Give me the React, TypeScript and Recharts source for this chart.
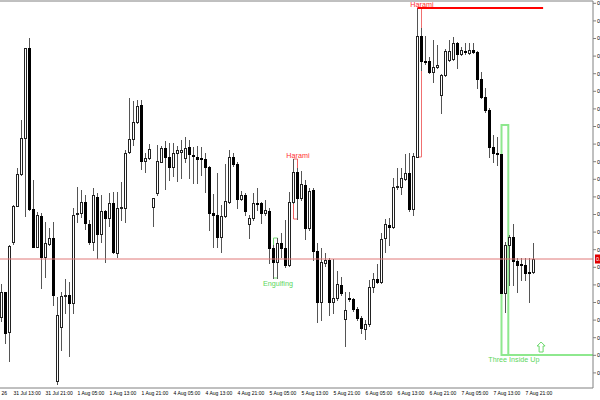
import {
  ComposedChart,
  Bar,
  XAxis,
  YAxis,
  ReferenceLine,
  ReferenceArea,
  ReferenceDot,
} from "recharts";

// hourly candles, price in points above 0.70000
const opens = [
  83, 108, 68, 158, 194, 226, 262, 352, 191, 153,
  184, 143, 156, 162, 19, 73, 104, 105, 97, 186,
  187, 198, 176, 158, 203, 166, 189, 182, 197, 147,
  192, 192, 248, 261, 278, 295, 239, 242, 193, 207,
  238, 252, 243, 233, 247, 248, 242, 253, 245, 243,
  242, 241, 233, 187, 185, 163, 184, 198, 243, 236,
  201, 205, 176, 182, 197, 197, 187, 189, 152, 138,
  157, 152, 135, 198, 228, 202, 215, 172, 210, 149,
  98, 137, 140, 98, 102, 115, 81, 102, 101, 91,
  82, 71, 76, 113, 121, 118, 162, 175, 173, 213,
  213, 221, 227, 191, 243, 364, 339, 339, 328, 333,
  305, 325, 340, 341, 357, 346, 349, 347, 350, 348,
  321, 303, 290, 253, 247, 246, 107, 155, 163, 139,
  136, 135, 128, 128,
];
const highs = [
  116, 108, 155, 195, 232, 280, 352, 362, 220, 188,
  187, 178, 172, 178, 103, 108, 121, 118, 192, 213,
  210, 205, 180, 212, 207, 205, 190, 207, 208, 208,
  218, 250, 302, 299, 300, 300, 247, 256, 202, 255,
  254, 259, 257, 257, 254, 260, 263, 260, 253, 254,
  253, 247, 234, 206, 227, 195, 236, 250, 247, 238,
  209, 207, 185, 207, 212, 198, 200, 192, 155, 162,
  167, 180, 208, 241, 232, 229, 220, 212, 212, 157,
  152, 147, 142, 141, 129, 123, 108, 108, 102, 93,
  84, 80, 120, 127, 136, 167, 181, 182, 222, 232,
  232, 246, 247, 247, 392, 372, 364, 343, 360, 355,
  326, 351, 360, 363, 358, 353, 357, 357, 357, 349,
  328, 312, 292, 265, 263, 246, 158, 165, 176, 142,
  142, 142, 142, 157,
];
const lows = [
  79, 57, 39, 156, 194, 225, 184, 190, 153, 153,
  112, 123, 155, 95, 16, 50, 87, 44, 87, 178,
  183, 171, 156, 150, 142, 158, 138, 174, 147, 143,
  180, 178, 247, 255, 277, 231, 228, 241, 174, 205,
  238, 211, 220, 224, 219, 222, 238, 222, 217, 217,
  225, 208, 170, 153, 153, 148, 183, 197, 234, 192,
  200, 185, 162, 180, 190, 177, 185, 137, 122, 122,
  143, 133, 134, 197, 181, 200, 161, 170, 140, 78,
  80, 134, 85, 87, 100, 105, 54, 99, 89, 80,
  67, 61, 74, 108, 117, 117, 148, 155, 172, 211,
  206, 220, 189, 185, 243, 330, 336, 327, 318, 332,
  287, 324, 339, 340, 332, 345, 346, 346, 347, 312,
  302, 288, 243, 238, 235, 107, 88, 115, 115, 108,
  120, 120, 98, 127,
];
const closes = [
  108, 67, 154, 194, 226, 262, 352, 191, 153, 185,
  143, 157, 162, 105, 85, 104, 105, 97, 185, 187,
  198, 177, 158, 205, 166, 189, 182, 197, 148, 192,
  193, 247, 261, 278, 294, 239, 242, 251, 202, 239,
  252, 243, 233, 247, 250, 250, 252, 246, 244, 241,
  241, 233, 187, 185, 163, 184, 199, 243, 236, 201,
  205, 189, 182, 197, 196, 187, 190, 152, 138, 157,
  152, 135, 198, 228, 202, 216, 172, 209, 149, 98,
  138, 140, 98, 102, 116, 107, 90, 101, 91, 82,
  72, 76, 113, 121, 118, 161, 176, 173, 213, 214,
  222, 227, 191, 244, 364, 339, 338, 328, 333, 335,
  325, 349, 349, 357, 346, 350, 348, 350, 348, 321,
  303, 290, 253, 247, 246, 107, 155, 163, 139, 135,
  135, 127, 127, 141,
];

const timeTicks = [0, 3, 11, 19, 27, 35, 43, 51, 59, 67, 75, 83, 91, 99, 107, 115, 123, 131];
const timeLabels = [
  "26", "31 Jul 13:00", "31 Jul 21:00", "1 Aug 05:00", "1 Aug 13:00", "1 Aug 21:00",
  "4 Aug 05:00", "4 Aug 13:00", "4 Aug 21:00", "5 Aug 05:00", "5 Aug 13:00", "5 Aug 21:00",
  "6 Aug 05:00", "6 Aug 13:00", "6 Aug 21:00", "7 Aug 05:00", "7 Aug 13:00", "7 Aug 21:00",
];
const priceTicks = [
  396.7, 379.1, 361.5, 343.9, 326.3, 308.7, 291.1, 273.5, 255.9, 238.3, 220.7,
  203.1, 185.5, 167.9, 150.3, 132.7, 115.1, 97.5, 79.9, 62.3, 44.7, 27.1,
];

// pattern boxes: first bar, last bar, low, high
const haramiBox1 = [73, 74, 181, 241];
const engulfingBox = [68, 69, 122, 162];
const haramiBox2 = [104, 105, 243, 392];
const threeInsideBox = [125, 126.7, 45, 275];

const fmt = (v: number) => (0.7 + v / 100000).toFixed(5);
const FONT = "Liberation Sans, Arial, sans-serif";

const candles = opens.map((o, i) => ({
  i,
  open: o,
  high: highs[i],
  low: lows[i],
  close: closes[i],
  range: [lows[i], highs[i]],
}));
const lastClose = closes[closes.length - 1];

const snap = (v: number) => Math.round(v) + 0.5;

const Candle = (props: any) => {
  const { x, y, width, height, payload } = props;
  const cx = Math.floor(x + width / 2) + 0.5;
  const h = Math.abs(height);
  const { open, high, low, close } = payload;
  const k = high === low ? 0 : h / (high - low);
  const yo = y + (high - open) * k;
  const yc = y + (high - close) * k;
  const top = snap(Math.min(yo, yc));
  const bot = Math.max(snap(Math.max(yo, yc)), top + 1);
  const bull = close >= open;
  return (
    <g>
      <line x1={cx} x2={cx} y1={Math.round(y)} y2={Math.round(y + h) + 1} stroke="#555" strokeWidth={1} />
      <rect
        x={cx - 1}
        y={top}
        width={2}
        height={bot - top}
        fill={bull ? "#fff" : "#000"}
        stroke={bull ? "#222" : "#000"}
        strokeWidth={1}
      />
    </g>
  );
};

const TimeTick = (props: any) => {
  const { x, y, payload } = props;
  const idx = timeTicks.indexOf(payload.value);
  return (
    <text x={x} y={y + 7} fontSize={5} fontFamily={FONT} fill="#000" textAnchor="start">
      {timeLabels[idx]}
    </text>
  );
};

const PriceTag = (props: any) => {
  const vb = props.viewBox || {};
  const x = vb.x + vb.width + 2;
  return (
    <g>
      <rect x={x} y={vb.y - 4.5} width={30} height={9} fill="#e00000" />
      <text x={x + 1} y={vb.y + 2.2} fontSize={5.5} fontFamily={FONT} fill="#fff">
        {fmt(lastClose)}
      </text>
    </g>
  );
};

const label = (text: string, color: string) => (p: any) => (
  <text x={p.cx} y={p.cy} dy="0.35em" fontSize={7.2} fontFamily={FONT} fill={color} textAnchor="middle">
    {text}
  </text>
);

const UpArrow = (p: any) => {
  const { cx, cy } = p;
  const pts = [
    [0, -5], [4, -1], [2, -1], [2, 5], [-2, 5], [-2, -1], [-4, -1],
  ].map(([a, b]) => `${cx + a},${cy + b}`).join(" ");
  return <polygon points={pts} fill="#fff" stroke="#6ad86a" strokeWidth={1} />;
};

export default function App() {
  return (
    <div style={{ position: "absolute", left: 0, top: 0, width: 600, height: 400, overflow: "hidden", background: "#fff" }}>
      <ComposedChart
        width={600}
        height={400}
        data={candles}
        margin={{ top: 1, right: 0, bottom: 0, left: 0 }}
      >
        <XAxis
          dataKey="i"
          type="number"
          domain={[-0.375, 147.875]}
          ticks={timeTicks}
          interval={0}
          height={12}
          tickSize={0}
          tickMargin={0}
          tickLine={false}
          axisLine={{ stroke: "#808080" }}
          tick={<TimeTick />}
          allowDataOverflow
        />
        <YAxis
          orientation="right"
          type="number"
          domain={[12, 399]}
          ticks={priceTicks}
          interval={0}
          width={7}
          tickSize={3}
          tickMargin={1}
          axisLine={{ stroke: "#808080" }}
          tickLine={{ stroke: "#808080" }}
          tick={{ fontSize: 5.5, fill: "#000", fontFamily: FONT, textAnchor: "start" }}
          tickFormatter={fmt}
          allowDataOverflow
        />
        <ReferenceLine y={399} stroke="#808080" ifOverflow="visible" />
        <ReferenceLine y={lastClose} stroke="#e07878" strokeWidth={1} label={<PriceTag />} />

        <Bar dataKey="range" barSize={3} shape={<Candle />} isAnimationActive={false} />

        <ReferenceArea
          x1={haramiBox1[0]} x2={haramiBox1[1]} y1={haramiBox1[2]} y2={haramiBox1[3]}
          fill="none" fillOpacity={0} stroke="#f06060" strokeWidth={1} ifOverflow="visible"
        />
        <ReferenceArea
          x1={engulfingBox[0]} x2={engulfingBox[1]} y1={engulfingBox[2]} y2={engulfingBox[3]}
          fill="none" fillOpacity={0} stroke="#70d870" strokeWidth={1} ifOverflow="visible"
        />
        <ReferenceArea
          x1={haramiBox2[0]} x2={haramiBox2[1]} y1={haramiBox2[2]} y2={haramiBox2[3]}
          fill="none" fillOpacity={0} stroke="#f07070" strokeWidth={1} ifOverflow="visible"
        />
        <ReferenceLine
          segment={[{ x: haramiBox2[0], y: haramiBox2[3] }, { x: 135.4, y: haramiBox2[3] }]}
          stroke="#ff0000" strokeWidth={2} ifOverflow="visible"
        />
        <ReferenceArea
          x1={threeInsideBox[0]} x2={threeInsideBox[1]} y1={threeInsideBox[2]} y2={threeInsideBox[3]}
          fill="none" fillOpacity={0} stroke="#8ee88e" strokeWidth={2} ifOverflow="visible"
        />
        <ReferenceLine
          segment={[{ x: threeInsideBox[1], y: threeInsideBox[2] }, { x: 147.875, y: threeInsideBox[2] }]}
          stroke="#8ee88e" strokeWidth={2} ifOverflow="visible"
        />

        <ReferenceDot x={74.1} y={245} r={0} ifOverflow="visible" shape={label("Harami", "#ff3030")} />
        <ReferenceDot x={69.1} y={117} r={0} ifOverflow="visible" shape={label("Engulfing", "#5cd65c")} />
        <ReferenceDot x={105.1} y={395.3} r={0} ifOverflow="visible" shape={label("Harami", "#ff3030")} />
        <ReferenceDot x={128.1} y={41} r={0} ifOverflow="visible" shape={label("Three Inside Up", "#5cd65c")} />
        <ReferenceDot x={134.9} y={53} r={0} ifOverflow="visible" shape={<UpArrow />} />
      </ComposedChart>
    </div>
  );
}
